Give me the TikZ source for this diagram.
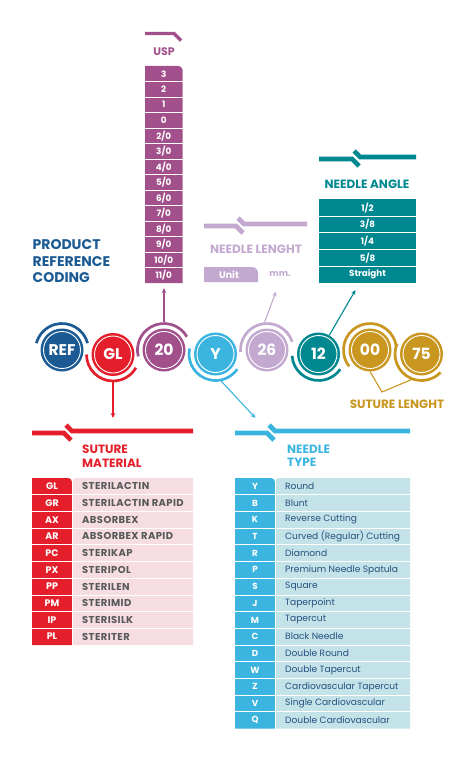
\documentclass[tikz,border=0pt]{standalone}
\usepackage{fontspec}
\setmainfont{Poppins}
\usetikzlibrary{arrows.meta,positioning}
\definecolor{cref}{HTML}{1B5A93}
\definecolor{cmat}{HTML}{E41F2B}
\definecolor{cusp}{HTML}{A2508B}
\definecolor{ctype}{HTML}{3BB5E0}
\definecolor{clen}{HTML}{C3A9D0}
\definecolor{cang}{HTML}{008891}
\definecolor{csut}{HTML}{C9961F}
\definecolor{matbg}{HTML}{F5DDE1}
\definecolor{matfg}{HTML}{58595B}
\definecolor{typebg}{HTML}{C3E3E9}
\definecolor{typefg}{HTML}{27507F}
\tikzset{
  code/.style={circle,minimum size=43pt,inner sep=0pt,text=white,font=\fontsize{15.5}{15.5}\selectfont\bfseries},
  ring/.style={draw=white,line width=0.9pt},
  hook/.style={line width=2.7pt},
  lead/.style={line width=1.1pt,-{Stealth[length=5pt,width=4.5pt]}},
  head/.style={inner sep=0pt,align=left,font=\fontsize{12}{13.3}\selectfont\bfseries},
  rowtxt/.style={inner sep=0pt,text=white,font=\fontsize{8.8}{8.8}\selectfont\bfseries},
  sep/.style={draw=white,line width=0.8pt},
  >=Stealth
}
% broken header bar: colour, left end, break, right end, height
\newcommand\cutbar[5]{%
  \draw[#1,line width=4.6pt,line join=miter] (#2,-#5-2) -- (#3,-#5-2) -- ++(7,-7);
  \draw[#1,line width=4.6pt,line join=miter] (#3+2,-#5+6) -- (#3+8,-#5) -- (#4,-#5);
}

\begin{document}
\begin{tikzpicture}[x=1pt,y=1pt]
  \useasboundingbox (0,0) rectangle (469,-757);

  % code circles
  \node[code,fill=cref] (ref) at (62,-350) {REF};
  \node[code,fill=cmat] (gl) at (113,-354.5) {GL};
  \node[code,fill=cusp] (usp) at (164,-350) {20};
  \node[code,fill=ctype] (typ) at (215.5,-354) {Y};
  \node[code,fill=clen] (len) at (267,-350) {26};
  \node[code,fill=cang] (ang) at (318.5,-354) {12};
  \node[code,fill=csut] (sut) at (370,-350) {00};
  \node[code,fill=csut] (sut2) at (421.5,-354) {75};
  \foreach \n in {ref,gl,usp,typ,len,ang,sut,sut2}
    \draw[ring] (\n.center) circle[radius=18.5];
  \foreach \n/\c/\a/\b in {ref/cref/15/165,gl/cmat/180/330,usp/cusp/30/194,typ/ctype/168/325,
      len/clen/18/184,ang/cang/184/325,sut/csut/7/218,sut2/csut/157/316}
    \draw[hook,\c] ([shift={(\a:26.5)}]\n.center) arc[start angle=\a,end angle=\b,radius=26.5];

  \node[head,anchor=north west,text=cref,font=\fontsize{14}{16.5}\selectfont\bfseries] (title) at (32.5,-239.5) {PRODUCT\\REFERENCE\\CODING};

  % USP
  \draw[cusp,line width=3.4pt,line join=miter] (145,-33.5) -- (174,-33.5) -- (181,-40.5);
  \node[head,text=cusp,font=\fontsize{11}{11}\selectfont\bfseries] (usp-t) at (164,-52) {USP};
  \fill[cusp] (145,-283) -- (145,-66) -- (178.5,-66) arc[start angle=90,end angle=0,radius=4] -- (182.5,-283) -- cycle;
  \foreach \i in {1,...,13} \draw[sep] (145,{-66-15.5*\i}) -- (182.5,{-66-15.5*\i});
  \foreach \u [count=\i] in {3,2,1,0,2/0,3/0,4/0,5/0,6/0,7/0,8/0,9/0,10/0,11/0}
    \node[rowtxt] (usp\i) at (163.75,{-73.75-15.5*(\i-1)}) {\u};
  \coordinate (usp-in) at (164,-288);
  \draw[lead,cusp] ([yshift=27.8pt]usp.center) -- (usp-in);

  % needle length
  \cutbar{clen}{204}{236}{307}{224}
  \node[head,text=clen] (len-t) at (256,-249.3) {NEEDLE LENGHT};
  \fill[clen] (204,-282) -- (204,-267) -- (252,-267) arc[start angle=90,end angle=0,radius=6] -- (258,-282) -- cycle;
  \node[rowtxt,font=\fontsize{9.5}{9.5}\selectfont\bfseries] (unit) at (229,-274.5) {Unit};
  \node[rowtxt,text=clen] (mm) at (280,-274) {mm.};
  \coordinate (len-in) at (276,-291.5);
  \draw[lead,clen] ([shift={(95:27.8)}]len.center) -- (len-in);

  % needle angle
  \cutbar{cang}{319}{352}{416}{157}
  \node[head,text=cang] (ang-t) at (367,-184) {NEEDLE ANGLE};
  \fill[cang] (319,-199.3) rectangle (416,-283);
  \foreach \i in {1,...,4} \draw[sep] (319,{-199.3-16.74*\i}) -- (416,{-199.3-16.74*\i});
  \foreach \u [count=\i] in {1/2,3/8,1/4,5/8,Straight}
    \node[rowtxt] (ang\i) at (367.5,{-207.67-16.74*(\i-1)}) {\u};
  \coordinate (ang-in) at (355.5,-290);
  \draw[lead,cang] ([shift={(60:21.5)}]ang.center) -- (ang-in);

  % suture length
  \coordinate (sut-v) at (382,-392);
  \draw[csut,line width=1.1pt] ([yshift=-21.5pt]sut.center) -- (sut-v) -- ([shift={(248:27.8)}]sut2.center);
  \node[head,text=csut] (sut-t) at (397,-404) {SUTURE LENGHT};

  % suture material
  \coordinate (mat-in) at (113,-418);
  \draw[lead,cmat] ([yshift=-27.8pt]gl.center) -- (mat-in);
  \cutbar{cmat}{32}{64}{193}{431}
  \node[head,anchor=north west,text=cmat] (mat-t) at (82,-445) {SUTURE\\MATERIAL};
  \fill[cmat] (32,-645) -- (32,-478) -- (68,-478) arc[start angle=90,end angle=0,radius=4] -- (72,-645) -- cycle;
  \fill[matbg] (72,-645) -- (72,-482) arc[start angle=180,end angle=90,radius=4] -- (193,-478) -- (193,-645) -- cycle;
  \foreach \i in {1,...,9} \draw[sep] (32,{-478-16.7*\i}) -- (193,{-478-16.7*\i});
  \draw[sep] (72,-478) -- (72,-645);
  \foreach \c/\t [count=\i] in {GL/STERILACTIN,GR/STERILACTIN RAPID,AX/ABSORBEX,AR/ABSORBEX RAPID,
      PC/STERIKAP,PX/STERIPOL,PP/STERILEN,PM/STERIMID,IP/STERISILK,PL/STERITER} {
    \node[rowtxt,font=\fontsize{9.5}{9.5}\selectfont\bfseries] (mc\i) at (52,{-486.35-16.7*(\i-1)}) {\c};
    \node[rowtxt,anchor=west,text=matfg,font=\fontsize{10}{10}\selectfont\bfseries\addfontfeatures{LetterSpace=4}] (mn\i) at (82,{-486.35-16.7*(\i-1)}) {\t};
  }

  % needle type
  \coordinate (typ-in) at (255.5,-418);
  \draw[lead,ctype] ([shift={(-78:27.8)}]typ.center) -- (typ-in);
  \cutbar{ctype}{235}{267}{410}{431}
  \node[head,anchor=north west,text=ctype] (typ-t) at (287,-445) {NEEDLE\\TYPE};
  \fill[ctype] (235,-728.5) -- (235,-478) -- (271,-478) arc[start angle=90,end angle=0,radius=4] -- (275,-728.5) -- cycle;
  \fill[typebg] (275,-728.5) -- (275,-482) arc[start angle=180,end angle=90,radius=4] -- (410,-478) -- (410,-728.5) -- cycle;
  \foreach \i in {1,...,14} \draw[sep] (235,{-478-16.7*\i}) -- (410,{-478-16.7*\i});
  \draw[sep] (275,-478) -- (275,-728.5);
  \foreach \c/\t [count=\i] in {Y/Round,B/Blunt,K/Reverse Cutting,T/Curved (Regular) Cutting,R/Diamond,
      P/Premium Needle Spatula,S/Square,J/Taperpoint,M/Tapercut,C/Black Needle,D/Double Round,
      W/Double Tapercut,Z/Cardiovascular Tapercut,V/Single Cardiovascular,Q/Double Cardiovascular} {
    \node[rowtxt] (tc\i) at (255,{-486.35-16.7*(\i-1)}) {\c};
    \node[rowtxt,anchor=west,text=typefg,font=\fontsize{9.1}{9.1}\selectfont] (tn\i) at (285,{-486.35-16.7*(\i-1)}) {\t};
  }
\end{tikzpicture}
\end{document}
